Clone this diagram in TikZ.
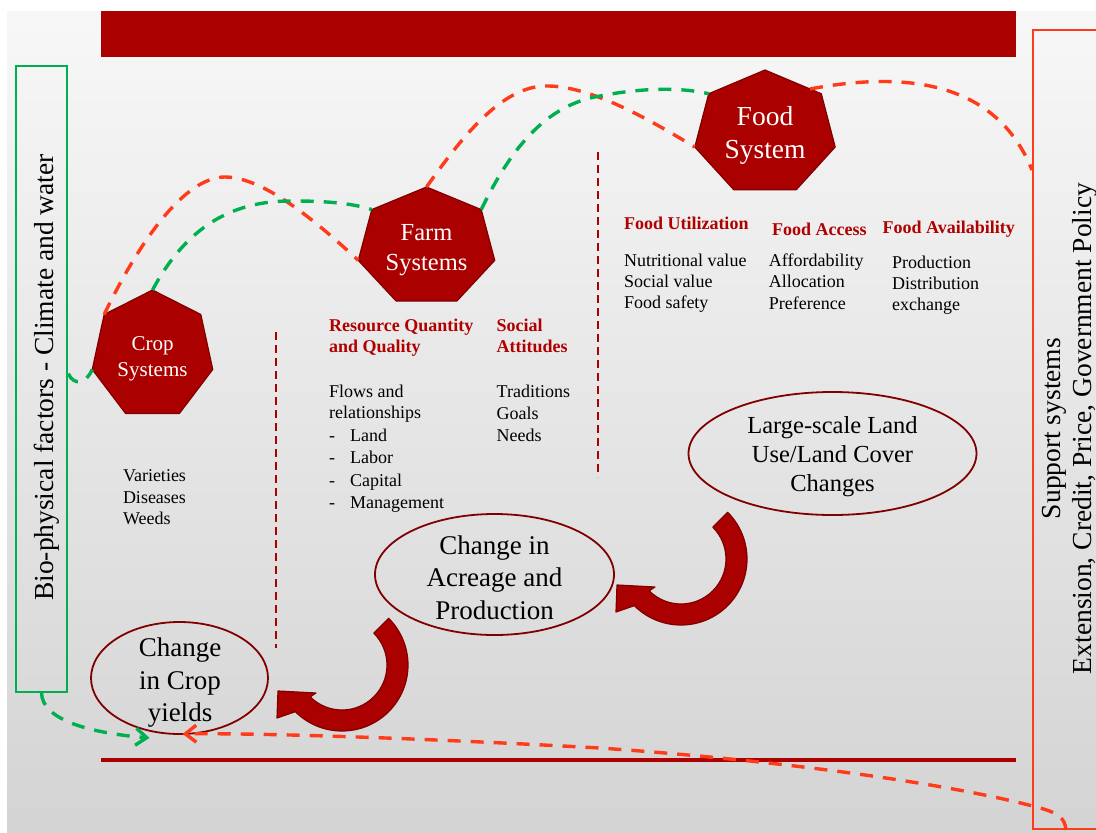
\documentclass[tikz,border=0pt]{standalone}
\usepackage{fontspec}
\setmainfont{Liberation Serif}
\usetikzlibrary{shapes.geometric,arrows.meta,calc}
\definecolor{barred}{HTML}{AA0000}
\definecolor{edgered}{HTML}{800000}
\definecolor{headred}{HTML}{B00000}
\definecolor{dashred}{HTML}{FF3B1A}
\definecolor{dashgreen}{HTML}{00B050}
\begin{document}
\begin{tikzpicture}[x=1pt,y=-1pt,
  hept/.style={fill=barred, draw=edgered, line width=1.2pt, line join=round},
  hepttext/.style={text=white, align=center, inner sep=0pt},
  reddash/.style={draw=dashred, line width=3.4pt, dash pattern=on 13pt off 10pt},
  greendash/.style={draw=dashgreen, line width=3.4pt, dash pattern=on 13pt off 10pt},
  barb/.style={-{Straight Barb[length=11pt,width=17pt]}},
  oval/.style={ellipse, draw=edgered, line width=1.8pt, inner sep=0pt},
  ovaltext/.style={align=center, inner sep=0pt, font=\fontsize{27}{32.5}\selectfont},
  head/.style={anchor=base west, inner sep=0pt, text=headred, font=\bfseries\fontsize{18}{20.8}\selectfont},
  body/.style={anchor=base west, inner sep=0pt, font=\fontsize{18}{21.3}\selectfont},
  sep/.style={draw=barred, line width=2pt, dash pattern=on 8pt off 5pt},
  bigarrow/.pic={
    \path[fill=barred, draw=edgered, line width=1.2pt, line join=round]
      (-45:66) arc[start angle=-45, end angle=135, radius=66]
      -- (-65,53) -- (-64,26) -- (-26,28) -- (135:45)
      arc[start angle=135, end angle=-45, radius=45] -- cycle;
  }
]
\useasboundingbox (0,0) rectangle (1096,833);
\fill[white] (0,0) rectangle (1096,833);
\shade[top color=white!97!black, bottom color=white!83!black] (7,11) rectangle (1096,833);

% bars
\fill[barred] (101,11) rectangle (1016,57);
\draw[barred, line width=4pt] (101,760) -- (1016,760);

% side boxes
\node[draw=dashgreen, line width=2pt, minimum width=51.6pt, minimum height=626pt, inner sep=0pt] (bio) at (41.5,378.7) {};
\node[rotate=90, inner sep=0pt, font=\fontsize{27.5}{31}\selectfont] (biotext) at (47,377.5) {Bio-physical factors - Climate and water};
\node[draw=dashred, line width=2pt, minimum width=90pt, minimum height=799pt, inner sep=0pt, anchor=north west] (supp) at (1032,29) {};
\node[rotate=90, inner sep=0pt, align=center, font=\fontsize{27.5}{31}\selectfont] (supptext) at (1069.5,428.5) {Support systems\\Extension, Credit, Price, Government Policy};

% separators
\draw[sep] (275.5,332) -- (275.5,648);
\draw[sep] (598,152) -- (598,477);

% heptagons
\foreach \n/\cx/\cy/\rx/\ry in {crop/152.5/355/61.8/65, farm/426.5/247/70/60, food/765/133/72/63}{
  \foreach \k in {1,...,7}{
    \coordinate (\n-\k) at ({\cx+\rx*cos(-90+(\k-1)*360/7)},{\cy+\ry*sin(-90+(\k-1)*360/7)});
  }
  \draw[hept] (\n-1) -- (\n-2) -- (\n-3) -- (\n-4) -- (\n-5) -- (\n-6) -- (\n-7) -- cycle;
}
\node[hepttext, font=\fontsize{21}{26}\selectfont] (crop) at (152.5,358.4) {Crop\\Systems};
\node[hepttext, font=\fontsize{24.5}{30}\selectfont] (farm) at (426.5,250) {Farm\\Systems};
\node[hepttext, font=\fontsize{27.5}{33}\selectfont] (food) at (765,135.4) {Food\\System};

% ellipses
\node[oval, minimum width=177pt, minimum height=112pt] (yield) at (179.5,678) {};
\node[ovaltext] (yieldtext) at (180,683) {Change\\in Crop\\yields};
\node[oval, minimum width=239pt, minimum height=121pt] (acre) at (494.5,574.5) {};
\node[ovaltext] (acretext) at (494.5,577.5) {Change in\\Acreage and\\Production};
\node[oval, minimum width=288pt, minimum height=123pt] (luc) at (832.5,453.5) {};
\node[ovaltext, font=\fontsize{24.5}{29}\selectfont] (luctext) at (832.5,457) {Large-scale Land\\Use/Land Cover\\Changes};

% big curved arrows
\pic at (342,665) {bigarrow};
\pic at (681,559) {bigarrow};

% text blocks
\node[head] (resq) at (329,331.7) {\begin{tabular}[t]{@{}l@{}}Resource Quantity\\and Quality\end{tabular}};
\node[head] (social) at (496.5,331.7) {\begin{tabular}[t]{@{}l@{}}Social\\Attitudes\end{tabular}};
\node[body] (flows) at (329,397.3) {\begin{tabular}[t]{@{}l@{}}Flows and\\relationships\end{tabular}};
\node[body, font=\fontsize{18}{22.2}\selectfont] (reslist) at (329,441.7) {\begin{tabular}[t]{@{}l@{}}\makebox[21pt][l]{-}Land\\\makebox[21pt][l]{-}Labor\\\makebox[21pt][l]{-}Capital\\\makebox[21pt][l]{-}Management\end{tabular}};
\node[body, font=\fontsize{18}{22.2}\selectfont] (trad) at (496.5,397.3) {\begin{tabular}[t]{@{}l@{}}Traditions\\Goals\\Needs\end{tabular}};
\node[body] (croplist) at (122.8,481.7) {\begin{tabular}[t]{@{}l@{}}Varieties\\Diseases\\Weeds\end{tabular}};
\node[head] (futil) at (623.8,229.3) {Food Utilization};
\node[head] (faccess) at (772,235) {Food Access};
\node[head] (favail) at (882.5,233.3) {Food Availability};
\node[body, font=\fontsize{18}{21.2}\selectfont] (futillist) at (623.8,266.3) {\begin{tabular}[t]{@{}l@{}}Nutritional value\\Social value\\Food safety\end{tabular}};
\node[body, font=\fontsize{18}{21.2}\selectfont] (faccesslist) at (768.7,266.7) {\begin{tabular}[t]{@{}l@{}}Affordability\\Allocation\\Preference\end{tabular}};
\node[body, font=\fontsize{18}{21.2}\selectfont] (favaillist) at (892,268.3) {\begin{tabular}[t]{@{}l@{}}Production\\Distribution\\exchange\end{tabular}};

% red dashed connectors
\draw[reddash] (crop-7) .. controls (140,240) and (185,177) .. (225,177) .. controls (265,177) and (320,225) .. (farm-6);
\draw[reddash] (farm-1) .. controls (460,140) and (500,87) .. (545,86) .. controls (590,85) and (650,120) .. (food-6);
\draw[reddash] ($(food-1)!0.8!(food-2)$) .. controls (900,72) and (995,78) .. ($(supp.north west)+(0,141)$);
\draw[reddash, barb] ($(supp.south west)+(34,0)$) .. controls (1065,818) and (1058,813) .. (1040,808)
  .. controls (960,786) and (800,762) .. (600,748)
  .. controls (400,737) and (250,733) .. ($(yield.south)+(3,-1)$);

% green dashed connectors
\draw[greendash] ($(bio.east)+(0,-5)$) .. controls (74,386) and (86,384) .. (crop-6);
\draw[greendash] (crop-1) .. controls (190,220) and (240,200) .. (295,201) .. controls (330,201) and (355,204) .. (farm-7);
\draw[greendash] (farm-2) .. controls (510,150) and (545,105) .. (600,96) .. controls (640,88) and (680,87) .. (food-7);
\draw[greendash, barb] (bio.south) .. controls (42,720) and (90,733) .. ($(yield.south)+(-30,3)$);
\end{tikzpicture}
\end{document}
